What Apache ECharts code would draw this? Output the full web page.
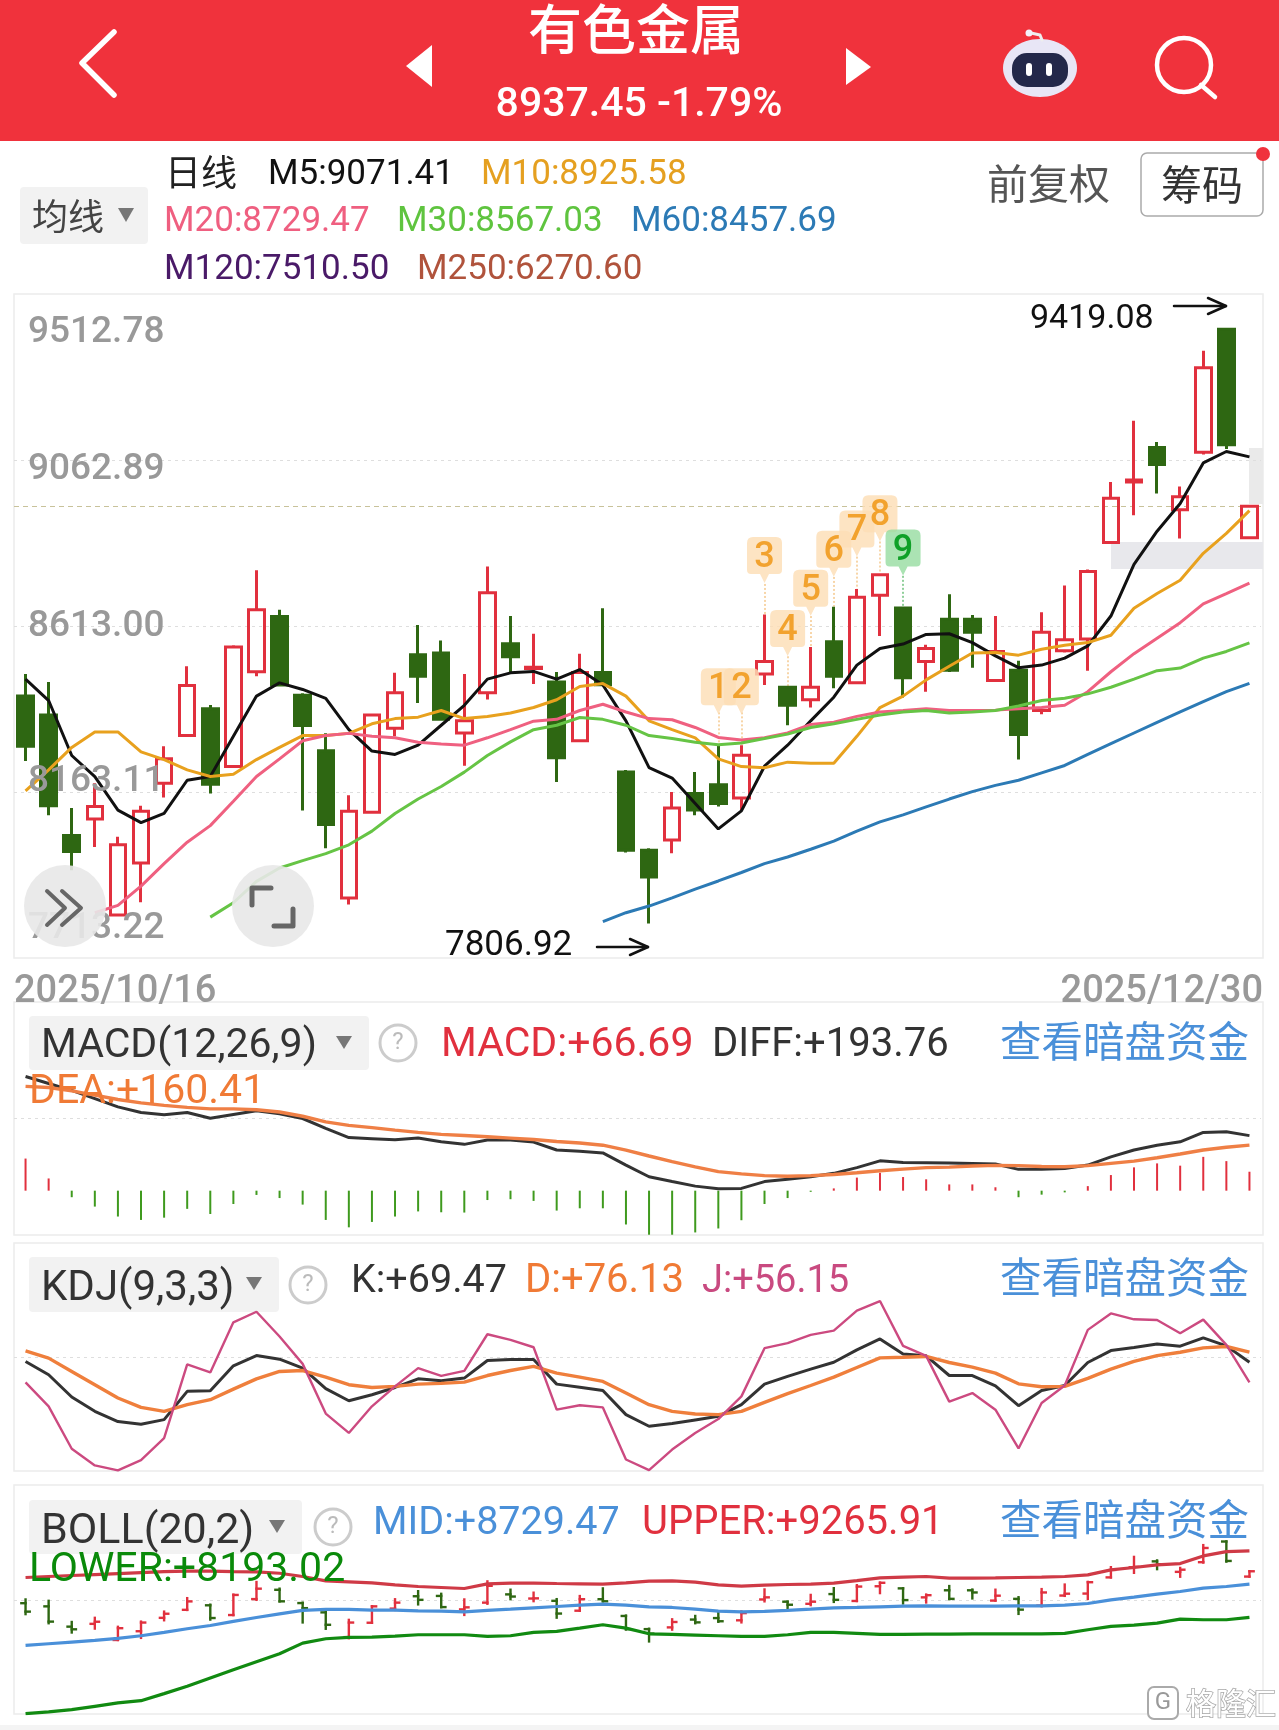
<!DOCTYPE html>
<html><head><meta charset="utf-8">
<script src="https://cdn.jsdelivr.net/npm/echarts@6/dist/echarts.min.js"></script>
<style>html,body{margin:0;padding:0;background:#fff}#c{width:1279px;height:1730px}</style>
</head><body><div id="c"></div>
<script>
const dates=["2025/10/16","2025/10/17","2025/10/20","2025/10/21","2025/10/22","2025/10/23","2025/10/24","2025/10/27","2025/10/28","2025/10/29","2025/10/30","2025/10/31","2025/11/03","2025/11/04","2025/11/05","2025/11/06","2025/11/07","2025/11/10","2025/11/11","2025/11/12","2025/11/13","2025/11/14","2025/11/17","2025/11/18","2025/11/19","2025/11/20","2025/11/21","2025/11/24","2025/11/25","2025/11/26","2025/11/27","2025/11/28","2025/12/01","2025/12/02","2025/12/03","2025/12/04","2025/12/05","2025/12/08","2025/12/09","2025/12/10","2025/12/11","2025/12/12","2025/12/15","2025/12/16","2025/12/17","2025/12/18","2025/12/19","2025/12/22","2025/12/23","2025/12/24","2025/12/25","2025/12/26","2025/12/29","2025/12/30"];
const opens=[8423,8372,8045,8090,7830,7971,8187,8316,8389,8232,8489,8639,8425,8275,7876,8108,8336,8535,8540,8323,8432,8565,8498,8461,8302,8487,8217,8005,8033,8159,8183,8147,8483,8447,8413,8570,8459,8696,8662,8517,8631,8631,8465,8493,8384,8546,8578,8839,9003,9097,8928,9084,9417,8852];
const closes=[8287,8126,8002,8124,8020,8111,8253,8452,8184,8556,8657,8453,8343,8075,8111,8372,8432,8477,8360,8356,8703,8530,8501,8256,8487,8454,8005,7933,8120,8114,8132,8263,8517,8398,8447,8477,8691,8752,8473,8552,8493,8596,8544,8319,8596,8576,8761,8959,9009,9051,8963,9313,9104,8937.45];
const lows=[8247,8100,7951,8014,7830,7864,8148,8314,8159,8231,8477,8452,8113,8011,7858,8107,8314,8404,8359,8234,8414,8488,8456,8190,8301,8453,7999,7806.92,7997,8100,8124,8114,8453,8344,8392,8444,8458,8586,8419,8435,8488,8500,8464,8251,8374,8541,8492,8838,8913,8972,8850,9078,9093,8851];
const highs=[8483,8461,8120,8187,8042,8126,8287,8504,8399,8561,8764,8657,8431,8322,8154,8374,8486,8616,8574,8483,8774,8640,8592,8488,8538,8661,8223,8011,8163,8217,8290,8290,8644,8449,8556,8665,8713,8755,8663,8562,8699,8643,8640,8519,8650,8723,8766,9003,9169,9112,8991,9359,9419.08,8939];
const ma5=[8469,8411,8262,8205,8114,8080,8105,8195,8205,8314,8423,8459,8441,8417,8332,8274,8265,8290,8344,8398,8469,8486,8490,8469,8495,8453,8356,8229,8201,8132,8063,8112,8233,8290,8356,8420,8507,8552,8564,8590,8592,8568,8532,8500,8507,8526,8559,8640,8780,8870,8945,9055,9086,9071.41];
const ma10=[8166,8223,8284,8326,8326,8272,8251,8223,8205,8211,8251,8284,8316,8316,8322,8348,8362,8366,8384,8362,8368,8377,8392,8413,8449,8457,8423,8356,8332,8310,8253,8232,8229,8244,8241,8241,8314,8392,8423,8467,8504,8540,8541,8534,8550,8561,8568,8588,8661,8701,8737,8810,8864,8925.58];
const ma20=[null,null,null,7836,7856,7908,7969,8027,8072,8138,8205,8253,8302,8316,8322,8314,8310,8298,8293,8290,8310,8332,8355,8360,8384,8401,8380,8362,8359,8338,8311,8304,8310,8323,8346,8352,8368,8380,8384,8389,8384,8384,8385,8389,8392,8398,8435,8489,8538,8580,8622,8673,8701,8729.47];
const ma30=[null,null,null,null,null,null,null,null,7824,7863,7921,7957,7977,7996,8020,8057,8105,8144,8178,8217,8262,8299,8332,8344,8365,8360,8344,8316,8308,8298,8291,8296,8308,8320,8338,8348,8360,8372,8380,8384,8377,8380,8384,8396,8411,8417,8429,8447,8469,8492,8499,8526,8544,8567.03];
const ma60=[null,null,null,null,null,null,null,null,null,null,null,null,null,null,null,null,null,null,null,null,null,null,null,null,null,7812,7836,7854,7876,7900,7922,7945,7969,7987,8008,8030,8057,8082,8101,8123,8144,8164,8181,8195,8215,8235,8265,8294,8323,8352,8380,8408,8435,8457.69];
const macdHist=[113,43,-23,-56,-91,-103,-95,-64,-82,-47,-15,-26,-49,-103,-129,-110,-91,-73,-76,-77,-33,-30,-36,-70,-62,-62,-119,-155,-155,-147,-133,-104,-47,-26,-4,8,46,63,48,40,22,22,12,-23,-14,-6,16,55,82,96,88,119,104,66.69];
const diff=[402,377,353,324,295,275,267,275,255,268,281,271,254,219,187,183,179,185,172,163,178,178,171,143,139,133,90,49,32,16,7,8,32,40,49,61,81,105,99,98,97,96,94,75,75,78,90,119,143,160,172,205,207,193.76];
const dea=[367,363,351,336,321,309,300,293,288,288,285,277,262,242,230,222,213,205,198,194,190,185,180,173,168,160,143,122,102,84,67,59,53,51,53,57,63,70,76,81,83,87,89,88,85,84,88,96,104,116,129,143,153,160.41];
const kdjK=[70.0,61.2,46.5,37.0,30.2,28.4,31.5,50.2,50.6,67.1,73.9,71.5,65.6,52.0,44.0,48.0,52.8,58.5,57.2,59.0,70.6,71.3,71.3,55.0,53.0,50.8,34.8,27.1,28.9,31.3,33.7,41.4,55.0,60.1,64.9,69.5,77.7,84.9,75.0,73.7,60.7,60.7,53.9,40.7,50.8,54.1,69.3,77.2,79.2,81.6,80.1,85.6,80.3,69.47];
const kdjD=[77.0,72.2,63.4,54.6,45.8,39.6,37.0,41.4,44.7,51.7,58.5,63.4,64.0,59.6,54.6,52.8,53.5,55.0,55.5,56.3,60.7,64.0,66.7,62.3,59.6,56.8,49.1,41.4,37.0,35.2,34.8,37.0,42.9,48.7,54.1,59.6,66.0,72.4,72.8,73.3,69.3,66.2,62.3,55.2,53.3,53.5,58.8,64.9,70.0,73.9,76.1,79.0,79.9,76.13];
const kdjJ=[56.15,40.3,12.2,1.2,-2.1,4.7,19.2,68.0,62.7,95.9,102.9,86.5,68.4,35.5,22.7,40.3,53.5,65.6,60.5,63.8,88.0,84.3,79.4,38.1,41.0,39.6,5.1,-1.9,11.7,22.7,31.9,46.9,78.8,82.1,87.6,90.4,103.6,110.0,80.3,73.7,43.4,49.1,38.1,12.4,42.5,54.1,90.9,101.8,97.9,97.4,88.7,97.7,81.0,56.15];
const bollUpper=[8837,8853,8869,8885,8901,8917,8933,8939,8939,8933,8928,8906,8853,8783,8767,8751,8719,8692,8676,8660,8735,8746,8746,8740,8735,8730,8751,8778,8783,8762,8719,8697,8713,8724,8730,8746,8788,8831,8842,8853,8826,8826,8831,8837,8842,8853,8880,8960,8998,9041,9062,9185,9255,9265.91];
const bollMid=[7742,7769,7796,7823,7855,7898,7952,8011,8064,8129,8193,8252,8306,8322,8322,8311,8311,8300,8295,8284,8306,8327,8349,8370,8392,8408,8392,8365,8354,8327,8295,8284,8290,8306,8327,8349,8354,8365,8375,8381,8375,8375,8375,8381,8381,8392,8418,8477,8520,8568,8611,8665,8692,8729.47];
const bollLower=[6643,6670,6707,6761,6815,6852,6965,7083,7217,7351,7480,7608,7780,7850,7871,7877,7893,7914,7914,7914,7887,7898,7952,7968,8021,8075,8021,7930,7920,7909,7898,7887,7887,7914,7952,7952,7936,7920,7920,7925,7925,7930,7930,7930,7930,7936,7995,8048,8070,8102,8166,8156,8156,8193.02];
const tdIndex=[30,31,32,33,34,35,36,37,38];
const tdLabel=["1","2","3","4","5","6","7","8","9"];
const tdValue=[8436,8436,8792,8594,8703,8809,8864,8905,8812];
const tdFoot=[8379,8379,8727,8531,8640,8746,8801,8842,8749];
const priceTicks=[9512.78,9062.89,8613.00,8163.11,7713.22];
const lastPrice=8937.45;
const legendMain=["M5:9071.41","M10:8925.58","M20:8729.47","M30:8567.03","M60:8457.69","M120:7510.50","M250:6270.60"];

const F="Roboto,'Noto Sans CJK SC',sans-serif";
const CJK="'Noto Sans CJK SC',sans-serif";
const RED="#e1303e",GRN="#2e6712";
function T(x,y,text,size,fill,align,font,z,extra){
  const dy=(!font||font===F)?4:0;
  return {type:'text',z:z||30,silent:true,style:Object.assign({x,y:y+dy,text:String(text),fontSize:size,fontFamily:font||F,fill,align:align||'left',verticalAlign:'middle'},extra||{})};
}
function L(pts,stroke,w,z){return {type:'polyline',z:z||30,silent:true,shape:{points:pts},style:{stroke,lineWidth:w,fill:null,lineCap:'round',lineJoin:'round'}};}
function P(pts,fill,z){return {type:'polygon',z:z||30,silent:true,shape:{points:pts},style:{fill}};}
function R(x,y,w,h,fill,r,stroke,z,lw){return {type:'rect',z:z===undefined?30:z,silent:true,shape:{x,y,width:w,height:h,r:r||0},style:{fill:fill||null,stroke:stroke||null,lineWidth:lw||1}};}
function C(cx,cy,r,fill,stroke,w,z){return {type:'circle',z:z||30,silent:true,shape:{cx,cy,r},style:{fill:fill||null,stroke:stroke||null,lineWidth:w||1}};}
const W5={fontWeight:500};

const gfx=[
 // header
 R(0,0,1279,141,'#f0323c',0,null,31),
 T(636,29,'有色金属',54,'#fff','center',CJK,32,W5),
 T(639,102,'8937.45 -1.79%',41,'#fff','center',F,32,W5),
 L([[114,32],[82,63],[114,95]],'#fff',5.5,32),
 P([[432,45],[406,66],[432,87]],'#fff',32),
 P([[846,48],[871,67],[846,85]],'#fff',32),
 {type:'ellipse',z:32,silent:true,shape:{cx:1040,cy:68,rx:37,ry:29},style:{fill:'#e8e6f6'}},
 R(1012,53,56,34,'#23284a',15,null,33),
 R(1026,63,6,13,'#fff',3,null,34),R(1046,63,6,13,'#fff',3,null,34),
 L([[1042,40],[1040,35],[1031,33]],'#eee',3,33),C(1029,33,3.5,'#f4f2fa',null,1,33),
 C(1184,65,27,null,'#fff',4.5,32),
 L([[1201,85],[1215,97]],'#fff',4.5,32),
 // legend rows
 T(165,172,'日线',36,'#222','left',CJK),
 T(268,171,legendMain[0],35,'#111'),
 T(481,171,legendMain[1],35,'#e5a020'),
 T(164,218,legendMain[2],35,'#ef5f80'),
 T(397,218,legendMain[3],35,'#5fc43f'),
 T(631,218,legendMain[4],35,'#2c7ab5'),
 T(164,266,legendMain[5],35,'#4a1a68'),
 T(417,266,legendMain[6],35,'#b0533c'),
 R(20,187,128,57,'#f2f2f2',4,null,20),
 T(32,216,'均线',36,'#444','left',CJK),
 P([[118,208],[134,208],[126,222]],'#777'),
 T(987,183,'前复权',41,'#555','left',CJK),
 R(1141,153,122,63,'#fff',6,'#aaa',29,1.5),
 T(1202,184,'筹码',41,'#333','center',CJK),
 C(1263,154,7,'#f0323c'),
 // panel frames
 R(14,294,1249,664,null,0,'#ececec',1,1.5),
 R(14,1002,1249,233,null,0,'#ececec',1,1.5),
 R(14,1243,1249,228,null,0,'#ececec',1,1.5),
 R(14,1485,1249,229,null,0,'#ececec',1,1.5),
 R(0,1725,1279,5,'#f4f4f4',0,null,1),
 // masked patches behind the chart
 R(1111,542,152,27,'#e8e8ec',0,null,1),
 R(1249,448,14,56,'#eaeaea',0,null,1),
 // price tick labels
 T(28,329,priceTicks[0].toFixed(2),37,'#999','left',F,30,W5),
 T(28,466,priceTicks[1].toFixed(2),37,'#999','left',F,30,W5),
 T(28,623,priceTicks[2].toFixed(2),37,'#999','left',F,30,W5),
 T(28,778,priceTicks[3].toFixed(2),37,'#999','left',F,30,W5),
 T(28,925,priceTicks[4].toFixed(2),37,'#999','left',F,30,W5),
 // extreme labels
 T(1030,315,'9419.08',34,'#111'),
 L([[1174,306],[1226,306]],'#111',2.5),L([[1208,298],[1226,306],[1208,314]],'#111',2.5),
 T(445,942,'7806.92',35,'#111'),
 L([[597,947],[648,947]],'#111',2.5),L([[630,939],[648,947],[630,955]],'#111',2.5),
 // floating buttons
 C(65,906,41,'rgba(232,232,232,0.9)',null,1,35),
 L([[47,891],[65,908],[47,925]],'#666',4,36),L([[62,891],[81,908],[62,925]],'#666',4,36),
 C(273,906,41,'rgba(232,232,232,0.9)',null,1,35),
 L([[252,905],[252,888],[271,888]],'#666',5,36),L([[274,926],[293,926],[293,909]],'#666',5,36),
 // dates
 T(14,988,dates[0],38,'#999','left',F,30,W5),
 T(1263,988,dates[dates.length-1],38,'#999','right',F,30,W5),
 // MACD header
 R(29,1016,340,54,'#f2f2f2',4,null,1),
 T(41,1043,'MACD(12,26,9)',41,'#333'),
 P([[336,1036],[352,1036],[344,1049]],'#777'),
 C(398,1043,18,'#fff','#ccc',3),T(398,1039,'?',24,'#bbb','center'),
 T(441,1042,'MACD:+66.69',41,RED),
 T(712,1042,'DIFF:+193.76',40,'#333'),
 T(1000,1041,'查看暗盘资金',41.5,'#4a90d9','left',CJK),
 T(29,1089,'DEA:+160.41',41,'#f07a35'),
 // KDJ header
 R(29,1257,250,55,'#f2f2f2',4,null,1),
 T(41,1285,'KDJ(9,3,3)',42,'#333'),
 P([[246,1277],[262,1277],[254,1290]],'#777'),
 C(308,1285,18,'#fff','#ccc',3),T(308,1281,'?',24,'#bbb','center'),
 T(351,1278,'K:+69.47',39.5,'#333'),
 T(525,1278,'D:+76.13',40,'#f07a35'),
 T(702,1278,'J:+56.15',38,'#c94a80'),
 T(1000,1277,'查看暗盘资金',41.5,'#4a90d9','left',CJK),
 // BOLL header
 R(29,1500,273,54,'#f2f2f2',4,null,1),
 T(41,1528,'BOLL(20,2)',43,'#333'),
 P([[269,1520],[285,1520],[277,1533]],'#777'),
 C(333,1527,18,'#fff','#ccc',3),T(333,1523,'?',24,'#bbb','center'),
 T(373,1520,'MID:+8729.47',39.5,'#4a90d9'),
 T(642,1520,'UPPER:+9265.91',40,RED),
 T(1000,1519,'查看暗盘资金',41.5,'#4a90d9','left',CJK),
 T(29,1567,'LOWER:+8193.02',41,'#0a8a0a'),
 // watermark
 R(1148,1687,30,32,'#fff',6,'#aaa',40,2),
 T(1163,1699,'G',24,'#999','center',F,41),
 T(1186,1703,'格隆汇',30,'#fff','left',CJK,41,{stroke:'#a8a8a8',lineWidth:1.5}),
];

const GL=14,GR=1279-1261;
const grids=[[294,664],[1002,233],[1243,228],[1485,229]].map(g=>({left:GL,right:GR,top:g[0],height:g[1]}));
const xAxes=grids.map((g,i)=>({type:'category',gridIndex:i,data:dates,boundaryGap:true,show:false}));
const yAxes=[[7713.22,9512.78],[-156,664],[-2.5,148.4],[6637,10328]].map((r,i)=>({type:'value',gridIndex:i,min:r[0],max:r[1],show:false,splitLine:{show:false},scale:true}));
function line(name,data,color,w,gi){return {name,type:'line',xAxisIndex:gi,yAxisIndex:gi,data,symbol:'none',showSymbol:false,silent:true,lineStyle:{color,width:w},connectNulls:false,z:4};}
function guide(gi,vals){return {type:'line',xAxisIndex:gi,yAxisIndex:gi,data:[],symbol:'none',silent:true,z:1,
  markLine:{silent:true,symbol:'none',z:1,label:{show:false},animation:false,lineStyle:{color:'#dedede',type:[3,4],width:1},data:vals.map(v=>({yAxis:v}))}};}

const candle=opens.map((o,i)=>[o,closes[i],lows[i],highs[i]]);
const ohlc=opens.map((o,i)=>[i,o,closes[i],lows[i],highs[i]]);
const tdPin='path://M6 0H29Q35 0 35 6V33Q35 37 31 37H22L17.500 46L13 37H4Q0 37 0 33V6Q0 0 6 0Z';

function renderOhlc(params,api){
  const i=api.value(0),o=api.value(1),c=api.value(2),lo=api.value(3),hi=api.value(4);
  const pO=api.coord([i,o]),pC=api.coord([i,c]),pL=api.coord([i,lo]),pH=api.coord([i,hi]);
  const col=c>=o?RED:GRN,st={stroke:col,lineWidth:2.4,lineCap:'square'},tick=4.2;
  return {type:'group',children:[
    {type:'line',shape:{x1:pL[0],y1:pL[1],x2:pH[0],y2:pH[1]},style:st},
    {type:'line',shape:{x1:pO[0]-tick,y1:pO[1],x2:pO[0],y2:pO[1]},style:st},
    {type:'line',shape:{x1:pC[0],y1:pC[1],x2:pC[0]+tick,y2:pC[1]},style:st}]};
}

const series=[
 guide(0,[priceTicks[1],priceTicks[2],priceTicks[3]]),
 {type:'line',xAxisIndex:0,yAxisIndex:0,data:[],symbol:'none',silent:true,z:1,
  markLine:{silent:true,symbol:'none',z:1,label:{show:false},lineStyle:{color:'#c8c29a',type:[5,4],width:1.2},data:[{yAxis:lastPrice}]}},
 {name:'K',type:'candlestick',xAxisIndex:0,yAxisIndex:0,data:candle,barWidth:16,silent:true,z:3,
  itemStyle:{color:'rgba(255,255,255,0)',color0:GRN,borderColor:RED,borderColor0:GRN,borderWidth:3},
  markLine:{silent:true,symbol:'none',z:2,label:{show:false},
    data:tdIndex.map((d,i)=>[
      {coord:[d,tdFoot[i]],lineStyle:{color:i===8?'#6cc07a':'#f5c88c',type:[2,2],width:1.5}},
      {coord:[d,highs[d]]}])},
  markPoint:{silent:true,z:6,
    data:tdIndex.map((d,i)=>({coord:[d,tdValue[i]],value:tdLabel[i],symbol:tdPin,symbolSize:[35,46],
      itemStyle:{color:i===8?'rgba(150,220,160,0.8)':'rgba(253,222,182,0.82)'},
      label:{show:true,formatter:tdLabel[i],fontSize:36,fontWeight:500,fontFamily:F,color:i===8?'#0fa028':'#f2a22e',position:'inside',offset:[0,-2]}}))}},
 line('M5',ma5,'#111',3,0),
 line('M10',ma10,'#e8a11e',3,0),
 line('M20',ma20,'#ef6080',3,0),
 line('M30',ma30,'#66c445',3,0),
 line('M60',ma60,'#2c7ab5',3,0),
 guide(1,[254]),
 {name:'MACD',type:'bar',xAxisIndex:1,yAxisIndex:1,data:macdHist,barWidth:2,silent:true,z:2,
  itemStyle:{color:p=>p.value>=0?'#e1303e':'#3f9a1e'}},
 line('DIFF',diff,'#333',3,1),
 line('DEA',dea,'#ef7f45',3.4,1),
 guide(2,[72.8]),
 line('K',kdjK,'#333',3,2),
 line('D',kdjD,'#ef7f3c',3.4,2),
 line('J',kdjJ,'#cc4a80',2.4,2),
 guide(3,[8477]),
 {name:'BOLLK',type:'custom',xAxisIndex:3,yAxisIndex:3,data:ohlc,silent:true,z:3,renderItem:renderOhlc,encode:{x:0,y:[1,2,3,4]}},
 line('UPPER',bollUpper,'#cf3a46',3.2,3),
 line('MID',bollMid,'#4a90d9',3.2,3),
 line('LOWER',bollLower,'#118a11',3.2,3),
];

const chart=echarts.init(document.getElementById('c'),null,{renderer:'canvas',width:1279,height:1730});
chart.setOption({animation:false,backgroundColor:'#fff',grid:grids,xAxis:xAxes,yAxis:yAxes,series,graphic:{elements:gfx}});
</script></body></html>
